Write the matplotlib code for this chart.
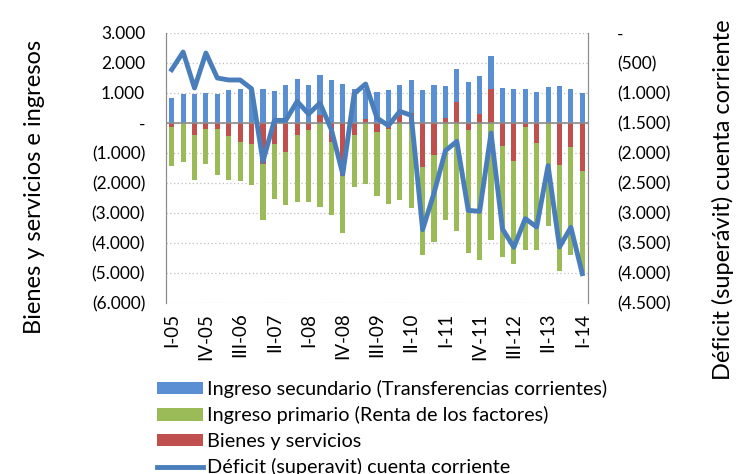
import matplotlib
matplotlib.use("Agg")
import matplotlib.pyplot as plt
import numpy as np
from matplotlib.ticker import FuncFormatter, FixedLocator

plt.rcParams["font.family"] = ["Lato", "DejaVu Sans"]

# quarters I-05 .. I-14
ROMAN = ["I", "II", "III", "IV"]
quarters = [f"{ROMAN[i % 4]}-{(5 + i // 4):02d}" for i in range(37)]

secundario = [833, 967, 967, 1000, 967, 1100, 1122, 1144, 1133, 1078,
              1256, 1467, 1278, 1322, 1433, 1311, 1144, 1000, 1022, 1111,
              989, 1111, 1100, 1267, 1088, 1089, 1367, 1278, 1111, 1178,
              1133, 1133, 1022, 1211, 1222, 1133, 1011]
bienes = [-133, 0, -389, -189, -189, -422, -622, -700, -1356, -700,
          -967, -400, -222, 278, -620, -1778, -389, 122, -311, -200,
          278, 333, -1467, -1078, 156, 711, -222, 289, 1133, -756,
          -1256, -144, -667, 0, -1389, -789, -1611]
primario = [-1311, -1300, -1500, -1178, -1544, -1478, -1300, -1378, -1888, -1833,
            -1778, -2233, -2422, -2789, -2444, -1889, -1755, -2022, -2133, -2489,
            -2556, -2833, -2922, -2889, -3222, -3600, -4111, -4556, -3911, -3711,
            -3444, -4078, -3577, -3422, -3555, -3600, -3400]
deficit = [-611, -317, -917, -333, -750, -783, -783, -928, -2139, -1456,
           -1456, -1139, -1350, -1167, -1611, -2350, -1011, -850, -1417, -1544,
           -1306, -1372, -3278, -2667, -1961, -1806, -2956, -2972, -1667, -3267,
           -3572, -3094, -3233, -2211, -3567, -3239, -4011]

C_BLUE = "#5B8FD4"
C_RED = "#C0504D"
C_GREEN = "#9BBB59"
C_LINE = "#4A7EBB"


def paren(v, pos=None):
    if abs(v) < 1e-9:
        return "-"
    s = f"{abs(v):,.0f}".replace(",", ".")
    return f"({s})" if v < 0 else s


x = np.arange(len(quarters))
sec = np.array(secundario, float)
bie = np.array(bienes, float)
pri = np.array(primario, float)

fig = plt.figure(figsize=(7.36, 4.74), dpi=100)
ax = fig.add_axes([166 / 736, 1 - 303 / 474, (588 - 166) / 736, 270 / 474])
ax2 = ax.twinx()

w = 0.45
# stacking like Excel: positives and negatives accumulate separately
pos = np.zeros_like(sec)
neg = np.zeros_like(sec)
handles = {}
for vals, col, name in [(bie, C_RED, "Bienes y servicios"),
                        (pri, C_GREEN, "Ingreso primario (Renta de los factores)"),
                        (sec, C_BLUE, "Ingreso secundario (Transferencias corrientes)")]:
    base = np.where(vals >= 0, pos, neg)
    b = ax.bar(x, vals, w, bottom=base, color=col, zorder=3, label=name)
    pos = pos + np.where(vals >= 0, vals, 0)
    neg = neg + np.where(vals < 0, vals, 0)
    handles[name] = b

ax.set_ylim(-6000, 3000)
ax.set_xlim(-0.5, len(quarters) - 0.5)
ax.yaxis.set_major_locator(FixedLocator(np.arange(-6000, 3001, 1000)))
ax.yaxis.set_major_formatter(FuncFormatter(paren))
ax.grid(axis="y", color="#BFBFBF", linestyle=(0, (1, 2)), linewidth=0.9, zorder=0)
ax.axhline(0, color="#8C8C8C", linewidth=1.2, zorder=4)

ax.set_xticks(x[::3])
ax.set_xticklabels(quarters[::3], rotation=90, fontsize=13.5)
ax.tick_params(axis="x", length=0, pad=7)
ax.tick_params(axis="y", length=0, labelsize=12.5, pad=15)

line, = ax2.plot(x, deficit, color=C_LINE, linewidth=3.5, zorder=5,
                 label="Déficit (superavit) cuenta corriente")
ax2.set_ylim(-4500, 0)
ax2.yaxis.set_major_locator(FixedLocator(np.arange(-4500, 1, 500)))
ax2.yaxis.set_major_formatter(FuncFormatter(paren))
ax2.tick_params(axis="y", length=0, labelsize=12.5, pad=21)
for lbl in ax2.get_yticklabels():
    lbl.set_horizontalalignment("left")

for a in (ax, ax2):
    a.spines["top"].set_visible(False)
    a.spines["bottom"].set_visible(False)
    a.spines["left"].set_color("#8C8C8C")
    a.spines["right"].set_color("#8C8C8C")

fig.text(35 / 736, 1 - 187 / 474, "Bienes y servicios e ingresos",
         rotation=90, ha="center", va="center", fontsize=17)
fig.text(723 / 736, 1 - 200 / 474, "Déficit (superávit) cuenta corriente",
         rotation=90, ha="center", va="center", fontsize=17)

leg_handles = [handles["Ingreso secundario (Transferencias corrientes)"],
               handles["Ingreso primario (Renta de los factores)"],
               handles["Bienes y servicios"], line]
leg_labels = [h.get_label() for h in leg_handles]
fig.legend(leg_handles, leg_labels, loc="upper left",
           bbox_to_anchor=(157 / 736, 1 - 380 / 474), frameon=False,
           fontsize=14.3, handlelength=2.3, handleheight=0.6,
           labelspacing=0.42, handletextpad=0.2, borderaxespad=0,
           borderpad=0)

fig.savefig("out.png", dpi=100)
